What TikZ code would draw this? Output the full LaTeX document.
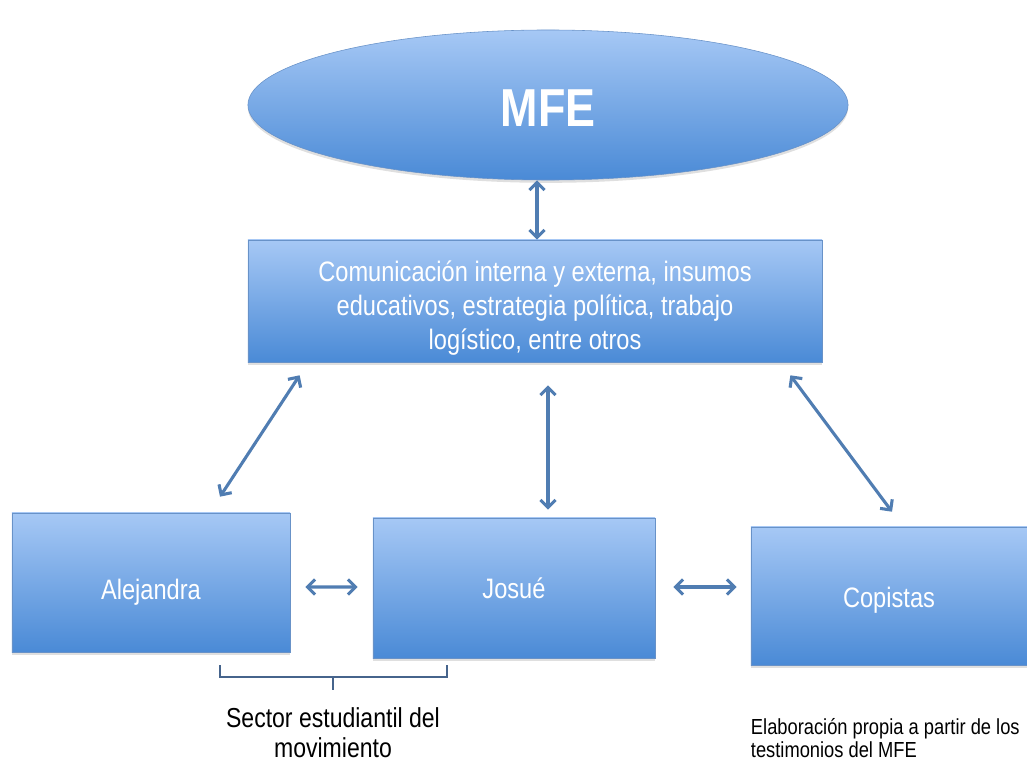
\documentclass[tikz,border=0pt]{standalone}
\usepackage{fontspec}
\setmainfont{Liberation Sans}[FakeStretch=0.84]
\usetikzlibrary{arrows.meta}
\usetikzlibrary{shapes.geometric}
\usetikzlibrary{shadows}
\definecolor{boxtop}{RGB}{166,200,245}
\definecolor{boxbot}{RGB}{74,138,214}
\definecolor{boxline}{RGB}{104,146,200}
\definecolor{linkblue}{RGB}{80,125,178}
\definecolor{bracegray}{RGB}{70,100,140}
\tikzset{>={Straight Barb[length=1.9mm,width=3.8mm]}}
\tikzset{
    actor/.style={rectangle, draw=boxline, top color=boxtop, bottom color=boxbot,
        text=white, font=\fontsize{20}{24}\selectfont, inner sep=0pt,
        drop shadow={shadow xshift=0pt, shadow yshift=-2pt, opacity=0.25}},
    link/.style={<->, linkblue, line width=2.2pt},
}

\begin{document}
\begin{tikzpicture}[x=0.025cm, y=-0.025cm]
	\useasboundingbox (0,0) rectangle (1027,762);
	\node[actor, ellipse, minimum width=15cm, minimum height=3.75cm,
	      font=\fontsize{38}{40}\selectfont\bfseries] (mfe) at (548,105) {\rule{0pt}{31pt}MFE};
	\node[actor, minimum width=14.35cm, minimum height=3.05cm, align=center] (tasks) at (535,301)
	    {\rule{0pt}{25pt}Comunicación interna y externa, insumos\\ educativos, estrategia política, trabajo\\ logístico, entre otros};
	\node[actor, minimum width=6.95cm, minimum height=3.475cm] (alejandra) at (151,582.5) {\rule{0pt}{29pt}Alejandra};
	\node[actor, minimum width=7.05cm, minimum height=3.5cm] (josue) at (514,588) {Josué};
	\node[actor, minimum width=6.9cm, minimum height=3.45cm] (copistas) at (889,596) {\rule{0pt}{20.5pt}Copistas};

	\draw[link] ([shift={(-11,0)}]mfe.south) -- ([shift={(2,0)}]tasks.north);
	\draw[link] ([shift={(52,13)}]tasks.south west) -- ([shift={(69,-16)}]alejandra.north);
	\draw[link] ([shift={(13,23)}]tasks.south) -- ([shift={(34,-8)}]josue.north);
	\draw[link] ([shift={(-32,13)}]tasks.south east) -- ([shift={(3,-15)}]copistas.north);
	\draw[link] ([shift={(15,4.5)}]alejandra.east) -- ([shift={(-15,-1)}]josue.west);
	\draw[link] ([shift={(18,-1)}]josue.east) -- ([shift={(-14,-9)}]copistas.west);

	% bracket under the student sector
	\coordinate (bl) at (220,665);
	\coordinate (br) at (447,665);
	\coordinate (bm) at (333,677);
	\draw[bracegray, line width=1.3pt] (bl) -- ++(0,12) -| (br);
	\draw[bracegray, line width=1.3pt] (bm) -- ++(0,13);
	\node[align=center, font=\fontsize{19.5}{21.5}\selectfont] (sector) at (333,733)
	    {Sector estudiantil del\\ movimiento};
	\node[anchor=west, align=left, font=\fontsize{15.5}{16}\selectfont] (fuente) at (746,738)
	    {Elaboración propia a partir de los\\ testimonios del MFE};
\end{tikzpicture}
\end{document}
